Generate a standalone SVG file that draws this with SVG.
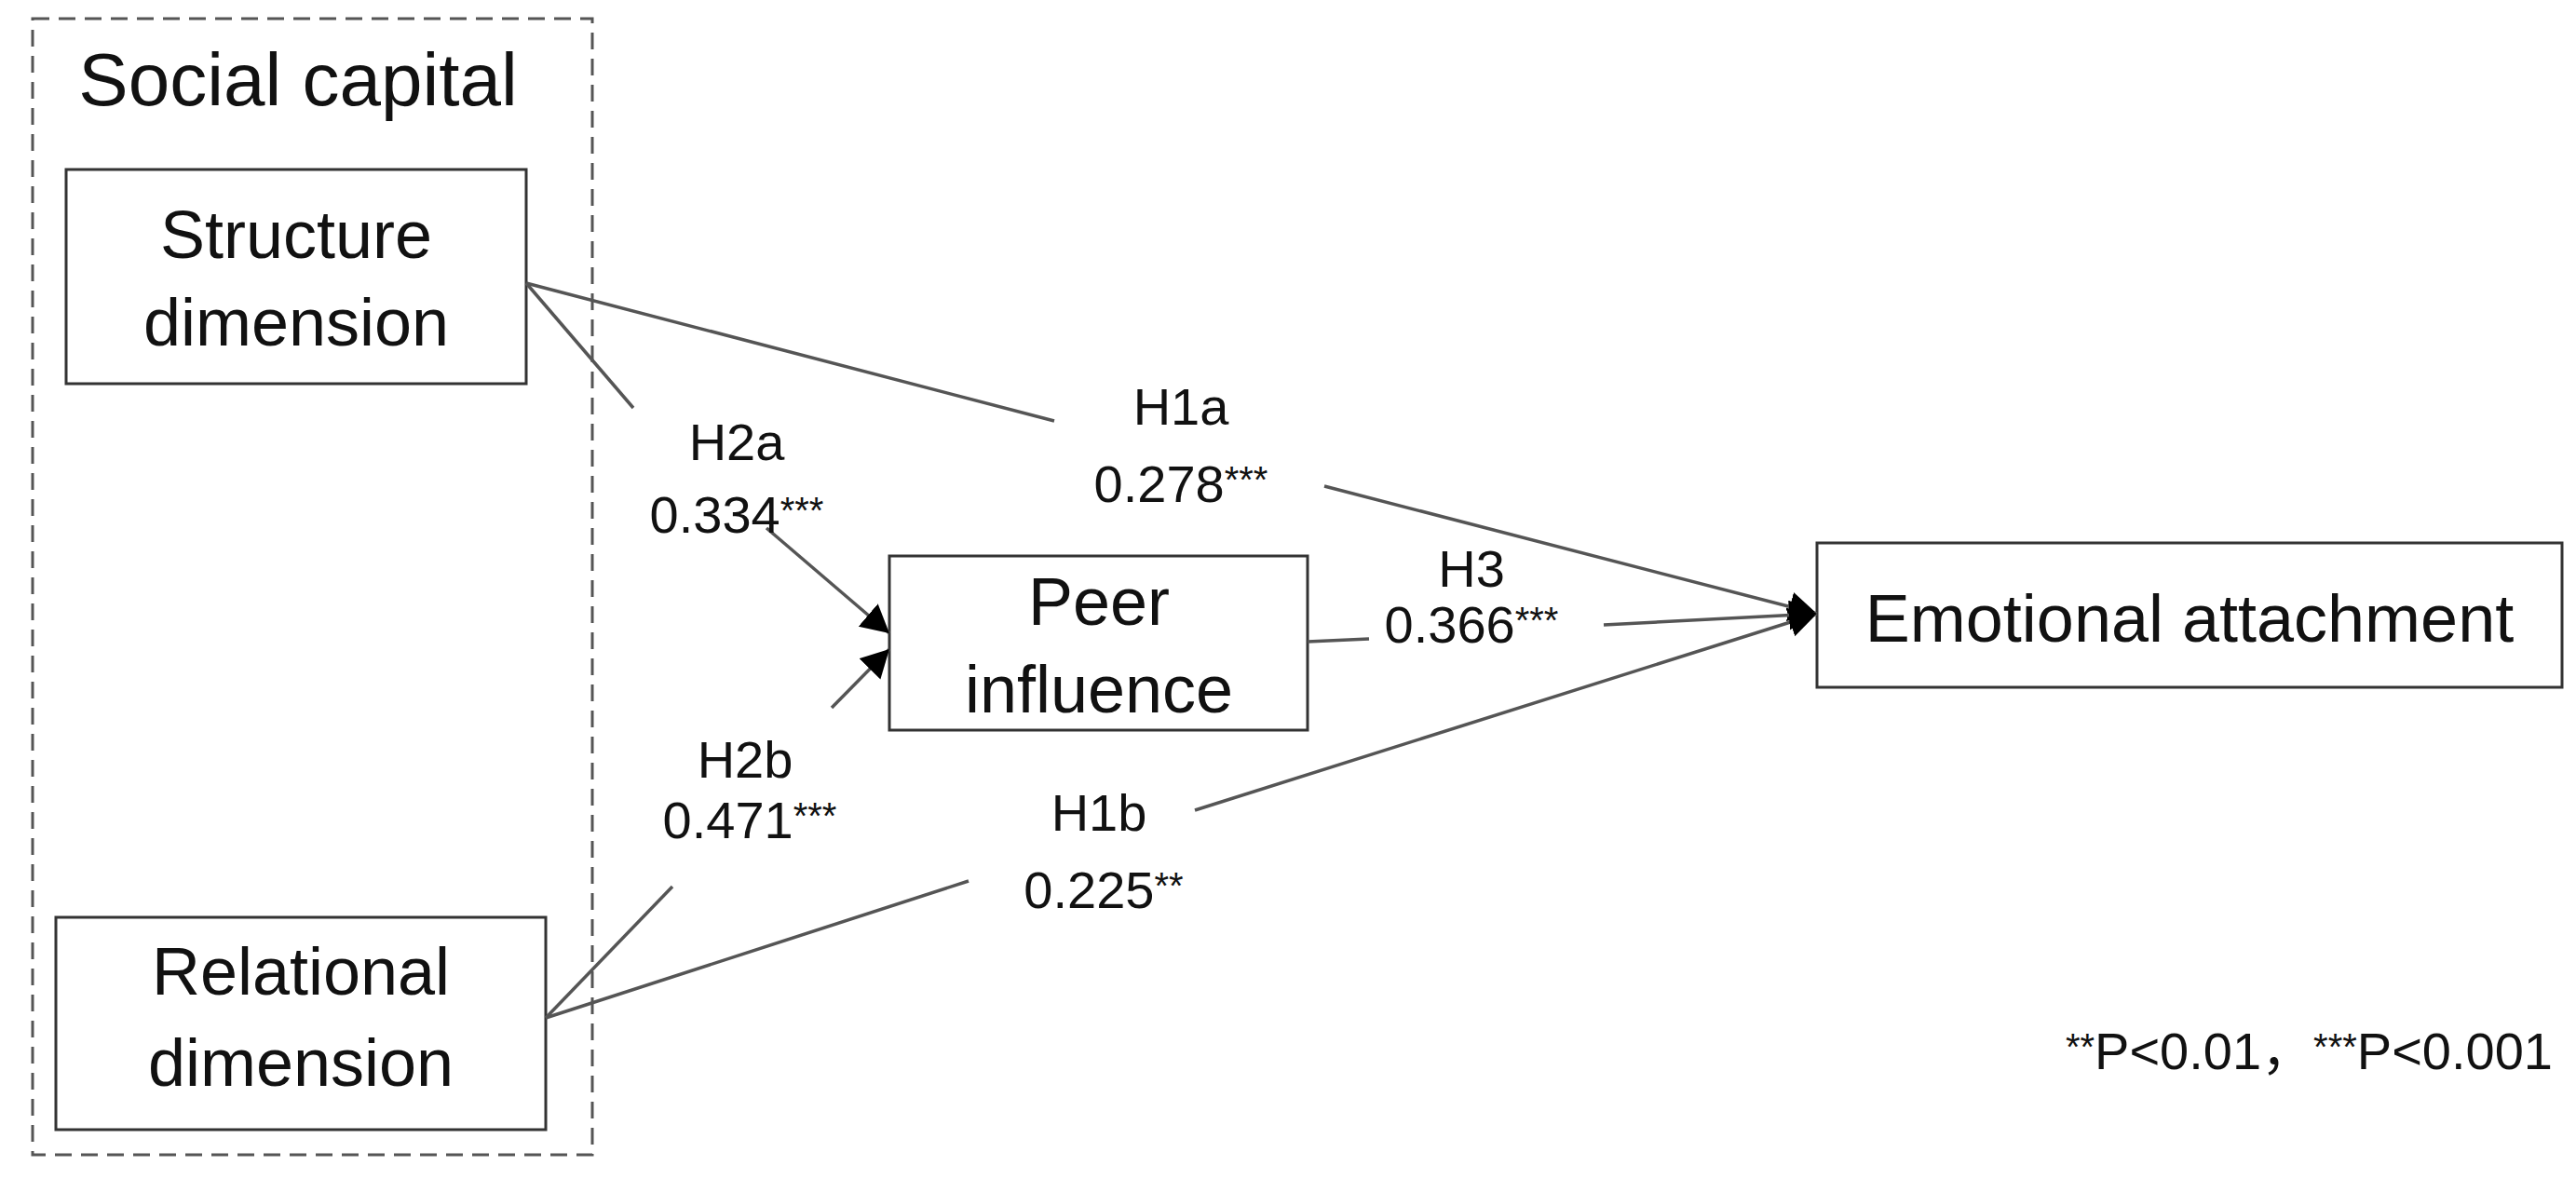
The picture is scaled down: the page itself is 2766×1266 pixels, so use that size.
<svg xmlns="http://www.w3.org/2000/svg" width="2766" height="1266" viewBox="0 0 2766 1266">
<style>
.box{fill:#fff;stroke:#333;stroke-width:3}
.t{font-family:"Liberation Sans",Arial,"Noto Sans CJK SC",sans-serif;fill:#111;text-anchor:middle}
.n{font-size:72px}
.l{font-size:56px}
.s{font-size:40px}
.c{stroke:#555;stroke-width:3.5;fill:none}
</style>
<defs>
<marker id="ah" markerUnits="userSpaceOnUse" markerWidth="34" markerHeight="34" refX="30" refY="16" orient="auto">
<path d="M0,0 L30,16 L0,32 Z" fill="#000"/>
</marker>
</defs>
<rect x="35" y="20" width="601" height="1220" fill="none" stroke="#555" stroke-width="3" stroke-dasharray="18,10"/>
<text class="t" x="320" y="113" font-size="80">Social capital</text>
<g id="structure"><rect class="box" x="71" y="182" width="494" height="230"/><text class="t n" x="318" y="277">Structure</text><text class="t n" x="318" y="371">dimension</text></g>
<g id="relational"><rect class="box" x="60" y="985" width="526" height="228"/><text class="t n" x="323" y="1068">Relational</text><text class="t n" x="323" y="1166">dimension</text></g>
<g id="peer"><rect class="box" x="955" y="597" width="449" height="187"/><text class="t n" x="1180" y="671">Peer</text><text class="t n" x="1180" y="765">influence</text></g>
<g id="emotional"><rect class="box" x="1951" y="583" width="800" height="155"/><text class="t n" x="2351" y="689">Emotional attachment</text></g>
<g id="connectors">
<line class="c" x1="565" y1="304" x2="1132" y2="452"/>
<line class="c" x1="1422" y1="522" x2="1951" y2="659" marker-end="url(#ah)"/>
<line class="c" x1="565" y1="304" x2="680" y2="438"/>
<line class="c" x1="823" y1="567" x2="955" y2="680" marker-end="url(#ah)"/>
<line class="c" x1="586" y1="1093" x2="722" y2="952"/>
<line class="c" x1="893" y1="760" x2="955" y2="697" marker-end="url(#ah)"/>
<line class="c" x1="586" y1="1093" x2="1040" y2="946"/>
<line class="c" x1="1283" y1="870" x2="1951" y2="659" marker-end="url(#ah)"/>
<line class="c" x1="1404" y1="689" x2="1470" y2="686"/>
<line class="c" x1="1722" y1="671" x2="1951" y2="659" marker-end="url(#ah)"/>
</g>
<g id="labels">
<text class="t l" x="791" y="494">H2a</text><text class="t l" x="791" y="572">0.334<tspan class="s" dy="-10">***</tspan></text>
<text class="t l" x="1268" y="456">H1a</text><text class="t l" x="1268" y="539">0.278<tspan class="s" dy="-10">***</tspan></text>
<text class="t l" x="1580" y="630" font-size="52">H3</text><text class="t l" x="1580" y="690" font-size="52">0.366<tspan class="s" dy="-10">***</tspan></text>
<text class="t l" x="800" y="835">H2b</text><text class="t l" x="805" y="900">0.471<tspan class="s" dy="-10">***</tspan></text>
<text class="t l" x="1180" y="892">H1b</text><text class="t l" x="1185" y="975">0.225<tspan class="s" dy="-10">**</tspan></text>
<text class="t l" x="2741" y="1148" style="text-anchor:end"><tspan class="s" dy="-10">**</tspan><tspan dy="10">P&lt;0.01，</tspan><tspan class="s" dy="-10">***</tspan><tspan dy="10">P&lt;0.001</tspan></text>
</g>
</svg>
